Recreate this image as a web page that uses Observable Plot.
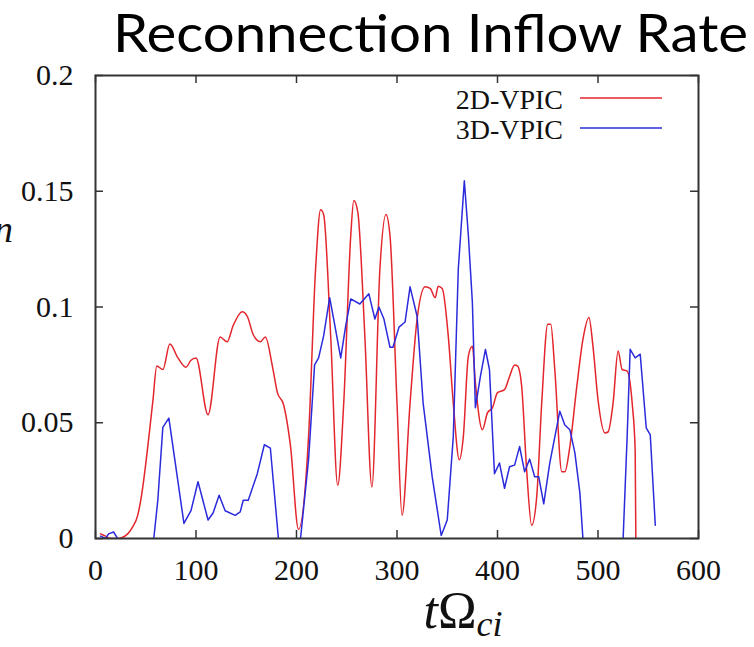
<!DOCTYPE html>
<html><head><meta charset="utf-8">
<script src="https://cdn.jsdelivr.net/npm/d3@7"></script>
<script src="https://cdn.jsdelivr.net/npm/@observablehq/plot@0.6"></script>
<style>
body{margin:0;background:#fff;width:754px;height:647px;overflow:hidden;position:relative}
#title{position:absolute;left:113px;top:1px;height:62px;font-family:Lato,"Open Sans",sans-serif;font-size:53px;line-height:62px;white-space:nowrap;transform-origin:0 0;color:#000}
#chart{position:absolute;left:0;top:62px}
</style></head><body>
<div id="title"><span id="tspan">Reconnection Inflow Rate</span></div>
<div id="chart"></div>
<script>
const titleText = "Reconnection Inflow Rate";
const seriesNames = ["2D-VPIC", "3D-VPIC"];
const seriesColors = ["#e3262c", "#2b2bdc"];
const xTicks = [0, 100, 200, 300, 400, 500, 600];
const yTicks = [0, 0.05, 0.1, 0.15, 0.2];

// 2D-VPIC
const t2D = [5,10,15,22,32,37,42,45,57,61,67,74,82,90,95,100,112,124,131,137,146,151,157,164,169,176,181,187,194,202,212,219,224,227,234,241,247,254,257,261,268,275,283,289,293,300,305,313,320,328,333,338,341,345,351,356,362,366,371,375,378,385,390,395,400,407,412,417,420,424,429,434,439,444,450,453,457,464,467,472,479,485,491,495,500,507,510,515,520,524,529,534,537,538];
const rate2D = [0.002,0.001,0,0,0.002,0.005,0.010,0.0165,0.059,0.0745,0.073,0.084,0.078,0.074,0.077,0.078,0.0535,0.087,0.085,0.092,0.098,0.096,0.088,0.085,0.087,0.0745,0.063,0.058,0.040,0.004,0.044,0.1165,0.142,0.14,0.0875,0.023,0.0585,0.131,0.146,0.141,0.0875,0.0223,0.1165,0.14,0.131,0.0585,0.010,0.0585,0.0948,0.1087,0.108,0.104,0.109,0.108,0.0875,0.0585,0.034,0.044,0.0788,0.083,0.0673,0.047,0.0543,0.0565,0.063,0.0643,0.070,0.075,0.0745,0.066,0.0296,0.0057,0.018,0.0585,0.0926,0.0926,0.073,0.0288,0.0288,0.0397,0.066,0.086,0.0955,0.083,0.060,0.0456,0.046,0.0585,0.081,0.073,0.0723,0.0585,0.038,-0.02];

// 3D-VPIC
const t3D = [5,10,13,18,22,26,56,58,62,67,73,88,95,102,112,117,123,129,139,144,147,152,161,168,174,182,186,200,204,212,218,222,227,233,237,244,249,254,263,272,278,282,287,293,296,302,308,313,320,326,335,344,350,356,361,367,371,375,378,383,388,392,397,402,407,412,417,422,427,432,437,441,446,452,462,467,472,477,482,485,489,521,525,529,532,537,542,548,552,557];
const rate3D = [0.001,0,0.002,0.0028,0,-0.02,-0.02,0,0.0165,0.048,0.052,0.0065,0.012,0.0245,0.008,0.011,0.0187,0.012,0.010,0.0115,0.0165,0.0165,0.028,0.0405,0.039,0,-0.02,-0.02,0,0.034,0.075,0.078,0.0875,0.104,0.0948,0.078,0.092,0.1035,0.1013,0.1057,0.0948,0.100,0.0948,0.0826,0.0826,0.0913,0.0935,0.1087,0.096,0.0585,0.0267,0.0013,0.008,0.044,0.1165,0.1545,0.131,0.102,0.0565,0.070,0.0817,0.073,0.028,0.0326,0.0217,0.031,0.0317,0.0397,0.0288,0.0343,0.0267,0.0267,0.015,0.0326,0.055,0.049,0.047,0.037,0.0196,0,-0.02,-0.02,0,0.044,0.0817,0.078,0.0796,0.0478,0.0448,0.0057];

const d2 = t2D.map((t, i) => ({t, v: rate2D[i], s: seriesNames[0]}));
const d3s = t3D.map((t, i) => ({t, v: rate3D[i], s: seriesNames[1]}));

const frameColor = "#333";
const W = 754, H = 585, mT = 13, mB = 109, mL = 95, mR = 56;
const innerW = W - mL - mR, innerH = H - mT - mB;
const tickLen = 8;

const chart = Plot.plot({
  width: W, height: H,
  marginTop: mT, marginBottom: mB, marginLeft: mL, marginRight: mR,
  style: {fontFamily: "'Liberation Serif', serif", fontSize: "30px", color: "#111", background: "white", overflow: "visible"},
  x: {domain: [0, 600], ticks: xTicks, tickSize: 0, tickPadding: 20, label: null, tickFormat: d => String(d)},
  y: {domain: [0, 0.2], ticks: yTicks, tickSize: 0, tickPadding: 22, label: null, tickFormat: d => String(d)},
  marks: [
    Plot.line(d2, {x: "t", y: "v", stroke: seriesColors[0], strokeWidth: 1.5, curve: "monotone-x", clip: true}),
    Plot.line(d3s, {x: "t", y: "v", stroke: seriesColors[1], strokeWidth: 1.5, clip: true}),
    Plot.tickX(xTicks, {x: d => d, insetTop: innerH - tickLen, stroke: frameColor, strokeWidth: 1.5}),
    Plot.tickX(xTicks, {x: d => d, insetBottom: innerH - tickLen, stroke: frameColor, strokeWidth: 1.5}),
    Plot.tickY(yTicks, {y: d => d, insetRight: innerW - tickLen, stroke: frameColor, strokeWidth: 1.5}),
    Plot.tickY(yTicks, {y: d => d, insetLeft: innerW - tickLen, stroke: frameColor, strokeWidth: 1.5}),
    Plot.frame({stroke: frameColor, strokeWidth: 2})
  ]
});
document.getElementById("chart").appendChild(chart);

const svg = d3.select(chart);
// legend
const legend = svg.append("g").attr("font-family", "'Liberation Serif', serif").attr("font-size", 28).attr("fill", "#111");
seriesNames.forEach((name, i) => {
  const yb = 47 + i * 30;
  legend.append("text").attr("x", 563).attr("y", yb).attr("text-anchor", "end").text(name);
  legend.append("line").attr("x1", 580).attr("x2", 662).attr("y1", yb - 11).attr("y2", yb - 11)
    .attr("stroke", seriesColors[i]).attr("stroke-width", 1.5);
});
// x label
const xl = svg.append("text").attr("x", 463).attr("y", 566).attr("text-anchor", "middle")
  .attr("font-family", "'Liberation Serif', serif").attr("font-size", 52).attr("fill", "#111");
xl.append("tspan").attr("font-style", "italic").text("t");
xl.append("tspan").text("Ω");
xl.append("tspan").attr("font-style", "italic").attr("font-size", 36).attr("dy", 8).text("ci");
// y label (cropped at the left edge, as in the reference)
const yl = svg.append("text").attr("x", 13).attr("y", 180).attr("text-anchor", "end")
  .attr("font-family", "'Liberation Serif', serif").attr("font-size", 38).attr("font-style", "italic").attr("fill", "#111");
yl.append("tspan").text("v");
yl.append("tspan").text("in");

// title fit
const ts = document.getElementById("tspan");
const w = ts.getBoundingClientRect().width;
document.getElementById("title").style.transform = `scaleX(${635 / w})`;
</script>
</body></html>
